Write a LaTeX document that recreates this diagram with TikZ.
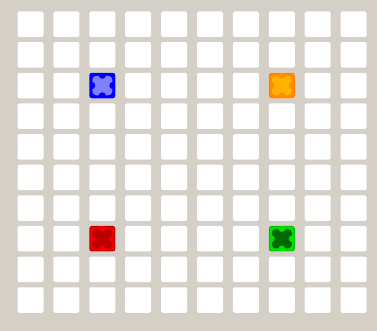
\documentclass[tikz,border=0pt]{standalone}
\definecolor{bg}{HTML}{D4D0C8}
\definecolor{blueA}{HTML}{0000FF}
\definecolor{blueB}{HTML}{8080FF}
\definecolor{orangeA}{HTML}{FF8C00}
\definecolor{orangeL}{HTML}{FF8000}
\definecolor{orangeB}{HTML}{FFB300}
\definecolor{redA}{HTML}{F00000}
\definecolor{redL}{HTML}{B00000}
\definecolor{redB}{HTML}{B80000}
\definecolor{greenA}{HTML}{00E000}
\definecolor{greenL}{HTML}{00C000}
\definecolor{greenB}{HTML}{006A00}
\tikzset{
  cellbox/.style={fill=white, rounded corners=2pt},
}
\newcommand\goalcell[5]{%
  \pgfmathsetmacro\cx{17.5+35.9*#1}%
  \pgfmathsetmacro\cy{11.5+30.64*#2}%
  \filldraw[fill=#3, draw=#4, line width=1pt, rounded corners=2pt] (\cx+0.5,\cy+0.5) rectangle (\cx+25.5,\cy+25);
  \begin{scope}
  \clip (\cx+1,\cy+1) rectangle (\cx+25,\cy+24.5);
  \fill[#5, rounded corners=4pt] (\cx+3,\cy+3) rectangle (\cx+23,\cy+22.5);
  \fill[#3] (\cx+13,\cy+2.3) circle (3.7pt);
  \fill[#3] (\cx+13,\cy+23.2) circle (3.7pt);
  \fill[#3] (\cx+2.3,\cy+12.75) circle (3.7pt);
  \fill[#3] (\cx+23.7,\cy+12.75) circle (3.7pt);
  \end{scope}
}
\begin{document}
\begin{tikzpicture}[x=1pt,y=-1pt]
\fill[bg] (0,0) rectangle (377,331);
\useasboundingbox (0,0) rectangle (377,331);
\foreach \i in {0,...,9} {
  \foreach \j in {0,...,9} {
    \fill[cellbox] ({17.5+35.9*\i},{11.5+30.64*\j}) rectangle ++(26,25.5);
  }
}
\goalcell{2}{2}{blueA}{blueA}{blueB}
\goalcell{7}{2}{orangeA}{orangeL}{orangeB}
\goalcell{2}{7}{redA}{redL}{redB}
\goalcell{7}{7}{greenA}{greenL}{greenB}
\end{tikzpicture}
\end{document}
